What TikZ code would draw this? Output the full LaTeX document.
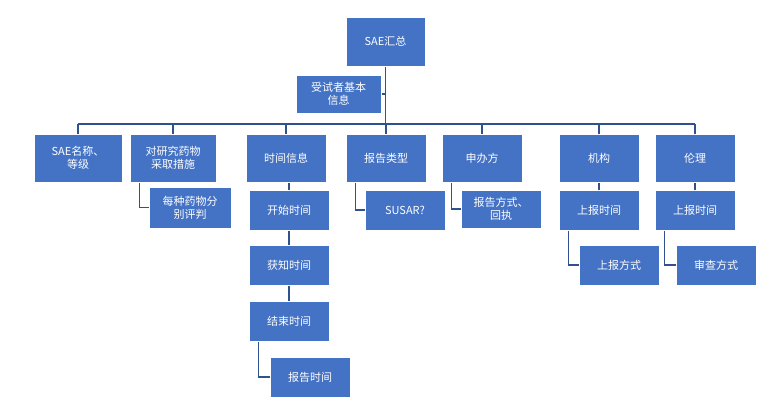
\documentclass[tikz,border=0pt]{standalone}
\usepackage{fontspec}
\setmainfont{Noto Sans CJK SC}
\begin{document}
\begin{tikzpicture}[x=1pt,y=-1pt,
  bx/.style={rectangle,fill={rgb,255:red,68;green,114;blue,196},draw=white,line width=1pt,text=white,
    align=center,font=\fontsize{11}{13}\selectfont,inner sep=1pt,minimum width=80,minimum height=40},
  ln/.style={draw={rgb,255:red,47;green,82;blue,143},line width=1.3pt}]
\useasboundingbox (0,0) rectangle (774,400);
\node[bx,minimum width=79,minimum height=49] (top) at (385.5,41.5) {SAE汇总};
\node[bx,minimum width=85,minimum height=38] (ast) at (338.5,94) {受试者基本\\信息};
\node[bx,minimum width=88,minimum height=48] (r1) at (78,158) {SAE名称、\\等级};
\node[bx,minimum width=86,minimum height=48] (r2) at (173,158) {对研究药物\\采取措施};
\node[bx,minimum height=48] (r3) at (286,158) {时间信息};
\node[bx,minimum height=48] (r4) at (386,158) {报告类型};
\node[bx,minimum height=48] (r5) at (482,158) {申办方};
\node[bx,minimum height=48] (r6) at (599,158) {机构};
\node[bx,minimum height=48] (r7) at (695,158) {伦理};
\node[bx,minimum width=82,minimum height=41] (c2) at (190,207.5) {每种药物分\\别评判};
\node[bx] (t1) at (289,210) {开始时间};
\node[bx] (t2) at (289,265) {获知时间};
\node[bx] (t3) at (289,321) {结束时间};
\node[bx] (t4) at (310,377) {报告时间};
\node[bx] (c4) at (405,210) {SUSAR?};
\node[bx,minimum height=38] (c5) at (501,209) {报告方式、\\回执};
\node[bx] (m1) at (599,210) {上报时间};
\node[bx] (m2) at (619,265) {上报方式};
\node[bx] (e1) at (695,210) {上报时间};
\node[bx] (e2) at (716,265) {审查方式};
\coordinate (bus) at (385.5,124);
\draw[ln] (top.south) -- (bus);
\draw[ln] (ast.east) -- (ast.east -| bus);
\draw[ln] (bus -| r1.north) -- (bus -| r7.north);
\foreach \n in {r1,r2,r3,r4,r5,r6,r7} \draw[ln] (bus -| \n.north) -- (\n.north);
\draw[ln] ([xshift=10]r2.south west) |- (c2.west);
\draw[ln] ([xshift=10]r4.south west) |- (c4.west);
\draw[ln] ([xshift=10]r5.south west) |- (c5.west);
\draw[ln] (r3.south -| t1) -- (t1.north);
\draw[ln] (t1.south) -- (t2.north);
\draw[ln] (t2.south) -- (t3.north);
\draw[ln] ([xshift=10]t3.south west) |- (t4.west);
\draw[ln] (r6.south) -- (m1.north);
\draw[ln] ([xshift=10]m1.south west) |- (m2.west);
\draw[ln] (r7.south) -- (e1.north);
\draw[ln] ([xshift=10]e1.south west) |- (e2.west);
\end{tikzpicture}
\end{document}
